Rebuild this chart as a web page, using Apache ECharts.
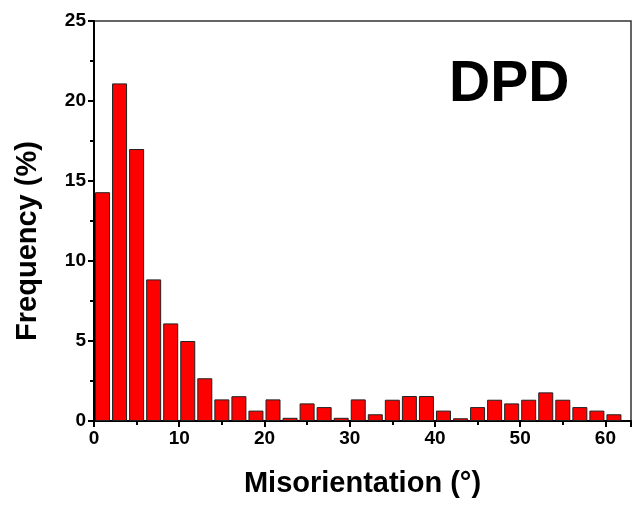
<!DOCTYPE html>
<html>
<head>
<meta charset="utf-8">
<script src="https://cdn.jsdelivr.net/npm/echarts@6/dist/echarts.min.js"></script>
<style>
  html, body { margin: 0; padding: 0; background: #fff; }
  #main { width: 632px; height: 506px; }
</style>
</head>
<body>
<div id="main"></div>
<script>
// bin centres (degrees), 2 degree bins
var binCenters = [1, 3, 5, 7, 9, 11, 13, 15, 17, 19, 21, 23, 25, 27, 29, 31,
                  33, 35, 37, 39, 41, 43, 45, 47, 49, 51, 53, 55, 57, 59, 61];
// frequency (%)
var frequency = [14.3, 21.1, 17.0, 8.85, 6.1, 5.0, 2.67, 1.35, 1.55, 0.65, 1.35, 0.2,
                 1.1, 0.87, 0.2, 1.35, 0.42, 1.33, 1.56, 1.56, 0.65, 0.17, 0.87, 1.33,
                 1.1, 1.33, 1.79, 1.33, 0.87, 0.65, 0.42];
var xTickValues = [0, 10, 20, 30, 40, 50, 60];
var yTickValues = [0, 5, 10, 15, 20, 25];

var chart = echarts.init(document.getElementById('main'));
var fontFam = '"Liberation Sans", Arial, sans-serif';

var option = {
  animation: false,
  backgroundColor: '#fff',
  title: {
    text: 'DPD',
    left: 444,
    top: 52,
    textStyle: { fontFamily: fontFam, fontSize: 57, fontWeight: 'bold', color: '#000' }
  },
  grid: {
    left: 94, top: 21, right: 1, bottom: 85,
    show: true, borderColor: '#333', borderWidth: 1.5, backgroundColor: 'transparent'
  },
  xAxis: {
    type: 'value',
    min: 0,
    max: 63,
    interval: 10,
    name: 'Misorientation (°)',
    nameLocation: 'middle',
    nameGap: 48,
    nameTextStyle: { fontFamily: fontFam, fontSize: 29, fontWeight: 'bold', color: '#000' },
    axisLine: { show: true, onZero: false, lineStyle: { color: '#000', width: 2 } },
    axisTick: { show: true, inside: false, length: 6, lineStyle: { color: '#000', width: 2 } },
    minorTick: { show: true, splitNumber: 2, length: 4, lineStyle: { color: '#000', width: 2 } },
    splitLine: { show: false },
    axisLabel: {
      margin: 8, showMaxLabel: false,
      fontFamily: fontFam, fontSize: 19, fontWeight: 'bold', color: '#000',
      formatter: function (v) { return xTickValues.indexOf(v) >= 0 ? String(v) : ''; }
    }
  },
  yAxis: {
    type: 'value',
    min: 0,
    max: 25,
    interval: 5,
    name: 'Frequency (%)',
    nameLocation: 'middle',
    nameGap: 52,
    nameTextStyle: { fontFamily: fontFam, fontSize: 29, fontWeight: 'bold', color: '#000', padding: [0, 40, 0, 0] },
    axisLine: { show: true, lineStyle: { color: '#000', width: 2 } },
    axisTick: { show: true, inside: false, length: 6, lineStyle: { color: '#000', width: 2 } },
    minorTick: { show: true, splitNumber: 2, length: 4, lineStyle: { color: '#000', width: 2 } },
    splitLine: { show: false },
    axisLabel: {
      margin: 8,
      fontFamily: fontFam, fontSize: 19, fontWeight: 'bold', color: '#000',
      formatter: function (v) { return yTickValues.indexOf(v) >= 0 ? String(v) : ''; }
    }
  },
  series: [{
    type: 'bar',
    barWidth: 15,
    data: binCenters.map(function (c, i) { return [c, frequency[i]]; }),
    itemStyle: { color: '#ff0000', borderColor: '#222', borderWidth: 1 }
  }]
};
chart.setOption(option);
</script>
</body>
</html>
